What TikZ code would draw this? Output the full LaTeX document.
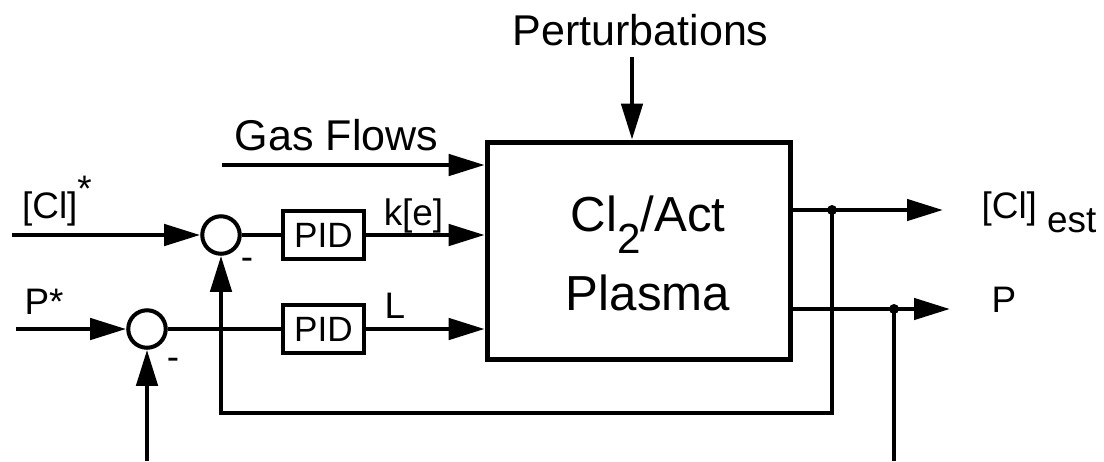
\documentclass[tikz,border=0pt]{standalone}
\usepackage{fontspec}
\setmainfont{Liberation Sans}
\usetikzlibrary{arrows.meta,positioning,calc}

\tikzset{
  sig/.style={line width=2.6pt, -{Triangle[length=0.72cm,width=0.42cm]}},
  wire/.style={line width=2.6pt},
  sumnode/.style={circle, draw, line width=2.3pt, minimum size=0.75cm, inner sep=0pt},
  pidbox/.style={draw, line width=2.3pt, minimum width=1.62cm, minimum height=0.96cm, inner sep=0pt, font=\fontsize{20}{24}\selectfont},
  plantbox/.style={draw, line width=3.2pt, minimum width=6.06cm, minimum height=4.34cm},
  plantlbl/.style={align=center, inner sep=0pt, font=\fontsize{28}{45}\selectfont},
  lbl/.style={font=\fontsize{21}{25}\selectfont, anchor=base, inner sep=0pt},
  biglbl/.style={font=\fontsize{24.5}{28}\selectfont, anchor=base, inner sep=0pt},
}

\begin{document}
\begin{tikzpicture}[x=0.02cm, y=-0.02cm]
  \useasboundingbox (0,0) rectangle (1104,461);

  % blocks
  \node[plantbox] (plant) at (639,251) {};
  \node[plantlbl] (plantname) at (648,253) {Cl\raisebox{-0.45em}{\fontsize{24}{24}\selectfont 2}/Act\\Plasma};
  \node[sumnode] (sum1) at (221,235) {};
  \node[sumnode] (sum2) at (147,329) {};
  \node[pidbox] (pid1) at (323.5,235) {PID};
  \node[pidbox] (pid2) at (323.5,329) {PID};

  % free ends
  \coordinate (clref) at (12,235);
  \coordinate (pref) at (16,329);
  \coordinate (gasin) at (222,165);
  \coordinate (pertin) at (632,57);
  \coordinate (clout) at (943,210);
  \coordinate (pout) at (950,309);
  \coordinate (cltap) at (832,210);
  \coordinate (ptap) at (894,309);
  \coordinate (fbcorner) at (832,413);
  \coordinate (pmeas) at (147,461);
  \coordinate (pfbend) at (894,461);

  % signals
  \draw[sig] (clref) -- (sum1);
  \draw[wire] (sum1) -- (pid1);
  \draw[sig] (pid1) -- (pid1 -| plant.west);
  \draw[sig] (pref) -- (sum2);
  \draw[wire] (sum2) -- (pid2);
  \draw[sig] (pid2) -- (pid2 -| plant.west);
  \draw[sig] (gasin) -- (gasin -| plant.west);
  \draw[sig] (pertin) -- (pertin |- plant.north);
  \draw[sig] (clout -| plant.east) -- (clout);
  \draw[sig] (pout -| plant.east) -- (pout);
  \draw[sig] (cltap) -- (fbcorner) -| (sum1);
  \draw[sig] (pmeas) -- (sum2);
  \draw[wire] (ptap) -- (pfbend);
  \fill (cltap) circle (0.1cm);
  \fill (ptap) circle (0.1cm);

  % labels
  \node[biglbl] (pertlbl) at (640.5,45) {Perturbations};
  \node[biglbl] (gaslbl) at (336.5,150) {Gas Flows};
  \node[lbl] (clreflbl) at (57,218) {[Cl]\raisebox{0.45em}{*}};
  \node[lbl] (preflbl) at (44,314) {P*};
  \node[lbl] (kelbl) at (413.5,225) {k[e]};
  \node[lbl] (llbl) at (395,318) {L};
  \node[lbl] (minus1) at (247,269) {-};
  \node[lbl] (minus2) at (173,369) {-};
  \node[lbl] (cllbl) at (1039,218) {[Cl]~\raisebox{-0.38em}{est}};
  \node[lbl] (poutlbl) at (1004,312) {P};
\end{tikzpicture}
\end{document}
